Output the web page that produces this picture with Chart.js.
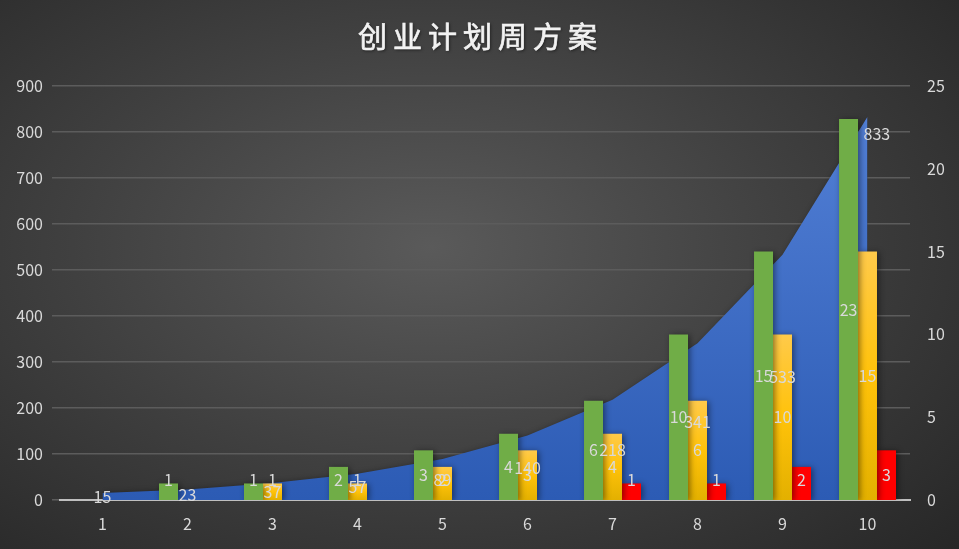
<!DOCTYPE html>
<html>
<head>
<meta charset="utf-8">
<script src="https://cdn.jsdelivr.net/npm/chart.js@4"></script>
<style>
  body { margin: 0; background: #2b2b2b; }
  #wrap {
    width: 959px; height: 549px; position: relative;
    background: radial-gradient(ellipse 75% 80% at 45% 45%, #5a5a5a 0%, #404040 50%, #272727 100%);
  }
</style>
</head>
<body>
<div id="wrap"><canvas id="myChart"></canvas></div>
<script>
// data
const categories   = ['1', '2', '3', '4', '5', '6', '7', '8', '9', '10'];
const areaValues   = [15, 23, 37, 57, 89, 140, 218, 341, 533, 833];
const greenValues  = [null, 1, 1, 2, 3, 4, 6, 10, 15, 23];
const yellowValues = [null, null, 1, 1, 2, 3, 4, 6, 10, 15];
const redValues    = [null, null, null, null, null, null, 1, 1, 2, 3];
const leftTicks    = [0, 100, 200, 300, 400, 500, 600, 700, 800, 900];
const rightTicks   = [0, 5, 10, 15, 20, 25];
const chartTitle   = '创业计划周方案';

const labelColor = '#d9d9d9';
const fontFamily = "'Noto Sans CJK SC', 'Noto Sans', sans-serif";

function areaFill(ctx) {
    const area = ctx.chart.chartArea;
    if (!area) return '#3d6cc7';
    const g = ctx.chart.ctx.createLinearGradient(0, area.top, 0, area.bottom);
    g.addColorStop(0, '#5582d8');
    g.addColorStop(1, '#2c5bb4');
    return g;
}

function yellowFill(ctx) {
    const chart = ctx.chart;
    if (!chart.chartArea || ctx.raw == null) return '#ffc000';
    const sc = chart.scales.y1;
    const top = sc.getPixelForValue(ctx.raw);
    const bottom = sc.getPixelForValue(0);
    const g = chart.ctx.createLinearGradient(0, top, 0, bottom + 0.01);
    g.addColorStop(0, '#ffca4a');
    g.addColorStop(0.5, '#ffc20a');
    g.addColorStop(1, '#e3b000');
    return g;
}

// title with letter spacing, a thin stroke makes it a bit heavier
const titlePlugin = {
    id: 'bigTitle',
    afterDraw(chart) {
        const c = chart.ctx;
        c.save();
        c.font = '29px ' + fontFamily;
        c.letterSpacing = '6px';
        c.textAlign = 'center';
        c.textBaseline = 'middle';
        c.shadowColor = 'rgba(0,0,0,0.6)';
        c.shadowBlur = 3;
        c.shadowOffsetX = 1;
        c.shadowOffsetY = 1;
        c.fillStyle = '#f2f2f2';
        c.strokeStyle = '#f2f2f2';
        c.lineWidth = 0.7;
        const x = 480.5, y = 37;
        c.fillText(chartTitle, x, y);
        c.shadowColor = 'transparent';
        c.strokeText(chartTitle, x, y);
        c.restore();
    }
};

// soft shadow under the marks
const shadowPlugin = {
    id: 'markShadow',
    beforeDatasetsDraw(chart) {
        const c = chart.ctx;
        c.save();
        c.shadowColor = 'rgba(0,0,0,0.45)';
        c.shadowBlur = 6;
        c.shadowOffsetX = 2;
        c.shadowOffsetY = 1;
    },
    afterDatasetsDraw(chart) {
        chart.ctx.restore();
    }
};

// value labels, drawn from the library's elements
const valueLabels = {
    id: 'valueLabels',
    afterDatasetsDraw(chart) {
        const c = chart.ctx;
        c.save();
        c.font = '16px ' + fontFamily;
        c.fillStyle = labelColor;
        c.textBaseline = 'middle';
        chart.data.datasets.forEach((ds, di) => {
            const meta = chart.getDatasetMeta(di);
            meta.data.forEach((el, i) => {
                const v = ds.data[i];
                if (v == null) return;
                if (ds.type === 'line') {
                    const base = chart.scales.y.getPixelForValue(0);
                    if (i === ds.data.length - 1) {
                        c.textAlign = 'left';
                        c.fillText(String(v), el.x - 4, el.y + 17);
                    } else {
                        c.textAlign = 'center';
                        c.fillText(String(v), el.x, (el.y + base) / 2);
                    }
                } else {
                    const p = el.getProps(['x', 'y', 'base'], true);
                    // small bars: label kept a bit above the axis
                    const mid = Math.min((p.y + p.base) / 2, p.base - 20);
                    c.textAlign = 'center';
                    c.fillText(String(v), p.x, mid);
                }
            });
        });
        c.restore();
    }
};

const config = {
    data: {
        labels: categories,
        datasets: [
            {
                type: 'line',
                label: '累计',
                data: areaValues,
                yAxisID: 'y',
                fill: 'origin',
                backgroundColor: areaFill,
                borderWidth: 0,
                pointRadius: 0,
                tension: 0,
                order: 2
            },
            {
                type: 'bar',
                label: '系列1',
                data: greenValues,
                yAxisID: 'y1',
                backgroundColor: '#70ad47',
                order: 1
            },
            {
                type: 'bar',
                label: '系列2',
                data: yellowValues,
                yAxisID: 'y1',
                backgroundColor: yellowFill,
                order: 1
            },
            {
                type: 'bar',
                label: '系列3',
                data: redValues,
                yAxisID: 'y1',
                backgroundColor: '#ff0000',
                order: 1
            }
        ]
    },
    options: {
        responsive: true,
        maintainAspectRatio: false,
        animation: false,
        layout: { padding: { top: 86, left: 0, right: 0, bottom: 0 } },
        datasets: {
            bar: { barPercentage: 1, categoryPercentage: 0.67 }
        },
        plugins: {
            legend: { display: false },
            title: { display: false },
            tooltip: { enabled: false }
        },
        scales: {
            x: {
                offset: true,
                grid: { display: false },
                border: { color: '#bfbfbf', width: 2 },
                ticks: { color: labelColor, font: { size: 16, family: fontFamily }, padding: 6 },
                afterFit(s) { s.height = 49; }
            },
            y: {
                position: 'left',
                min: 0,
                max: 900,
                afterBuildTicks(s) { s.ticks = leftTicks.map(v => ({ value: v })); },
                grid: { color: '#5c5c5c', lineWidth: 1.5 },
                border: { display: false },
                ticks: { color: labelColor, font: { size: 16, family: fontFamily }, padding: 9 },
                afterFit(s) { s.width = 60; }
            },
            y1: {
                position: 'right',
                min: 0,
                max: 25,
                afterBuildTicks(s) { s.ticks = rightTicks.map(v => ({ value: v })); },
                grid: { display: false },
                border: { display: false },
                ticks: { color: labelColor, font: { size: 16, family: fontFamily }, padding: 9 },
                afterFit(s) { s.width = 49; }
            }
        }
    },
    plugins: [shadowPlugin, valueLabels, titlePlugin]
};

const myChart = document.getElementById('myChart');
new Chart(myChart, config);
</script>
</body>
</html>
